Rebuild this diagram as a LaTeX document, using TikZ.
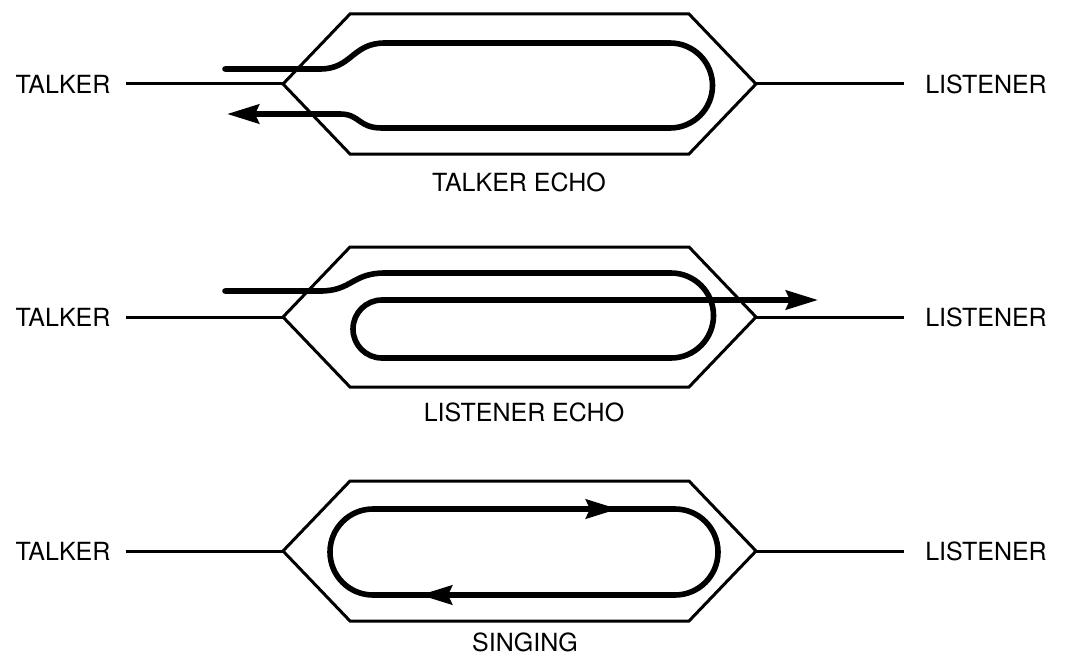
\documentclass[tikz,border=0pt]{standalone}
\usepackage{fontspec}
\setmainfont{TeX Gyre Heros}
\usetikzlibrary{arrows.meta}
\begin{document}
\begin{tikzpicture}[x=0.5pt, y=-0.5pt,
    font=\fontsize{12.5}{15}\selectfont,
    hex/.style={draw, line width=1.5pt, line join=miter},
    wire/.style={draw, line width=2.8pt, line cap=round},
    tip/.style={-{Stealth[length=16pt, width=9.5pt, inset=2pt]}},
    talk/.style={inner ysep=0pt, inner xsep=7.5pt},
    lis/.style={inner ysep=0pt, inner xsep=10.5pt}]
  \useasboundingbox (0,0) rectangle (1068,658);
  % --- Hexagons, side lines and captions ---
  \foreach \n/\y/\cx/\cy/\cap in {1/84/519/182/TALKER ECHO, 2/317/524/412/LISTENER ECHO, 3/551/525/642/SINGING} {
    \node[talk] (talker\n) at (63,\y) {TALKER};
    \node[lis] (listener\n) at (986,\y) {LISTENER};
    \coordinate (hexW\n) at (283,\y);
    \coordinate (hexE\n) at (756,\y);
    \draw[hex] (hexW\n) -- (350,\y-70) -- (689,\y-70) -- (hexE\n)
      -- (689,\y+70) -- (350,\y+70) -- cycle;
    \draw[hex] (talker\n.east) -- (hexW\n);
    \draw[hex] (hexE\n) -- (listener\n.west);
    \node[inner sep=0pt] (caption\n) at (\cx,\cy) {\cap};
  }

  % --- Talker echo: out and back ---
  \draw[wire, tip] (225,69) -- (320,69) .. controls (352,69) and (352,43) .. (385,43)
    -- (670,43) arc[start angle=-90, end angle=90, radius=42.5]
    -- (382,128) .. controls (358,128) and (360,114) .. (340,114) -- (227,114);

  % --- Listener echo: loop and through ---
  \draw[wire, tip] (225,291) -- (320,291) .. controls (352,291) and (352,273) .. (385,273)
    -- (671,273) arc[start angle=-90, end angle=90, radius=42.5]
    -- (382,358) arc[start angle=90, end angle=270, radius=29] -- (818,300);

  % --- Singing: closed loop ---
  \draw[wire] (373,509) -- (675,509) arc[start angle=-90, end angle=90, radius=43]
    -- (373,595) arc[start angle=90, end angle=270, radius=43] -- cycle;
  \draw[wire, tip] (580,509) -- (618,509);
  \draw[wire, tip] (460,595) -- (420,595);
\end{tikzpicture}
\end{document}
